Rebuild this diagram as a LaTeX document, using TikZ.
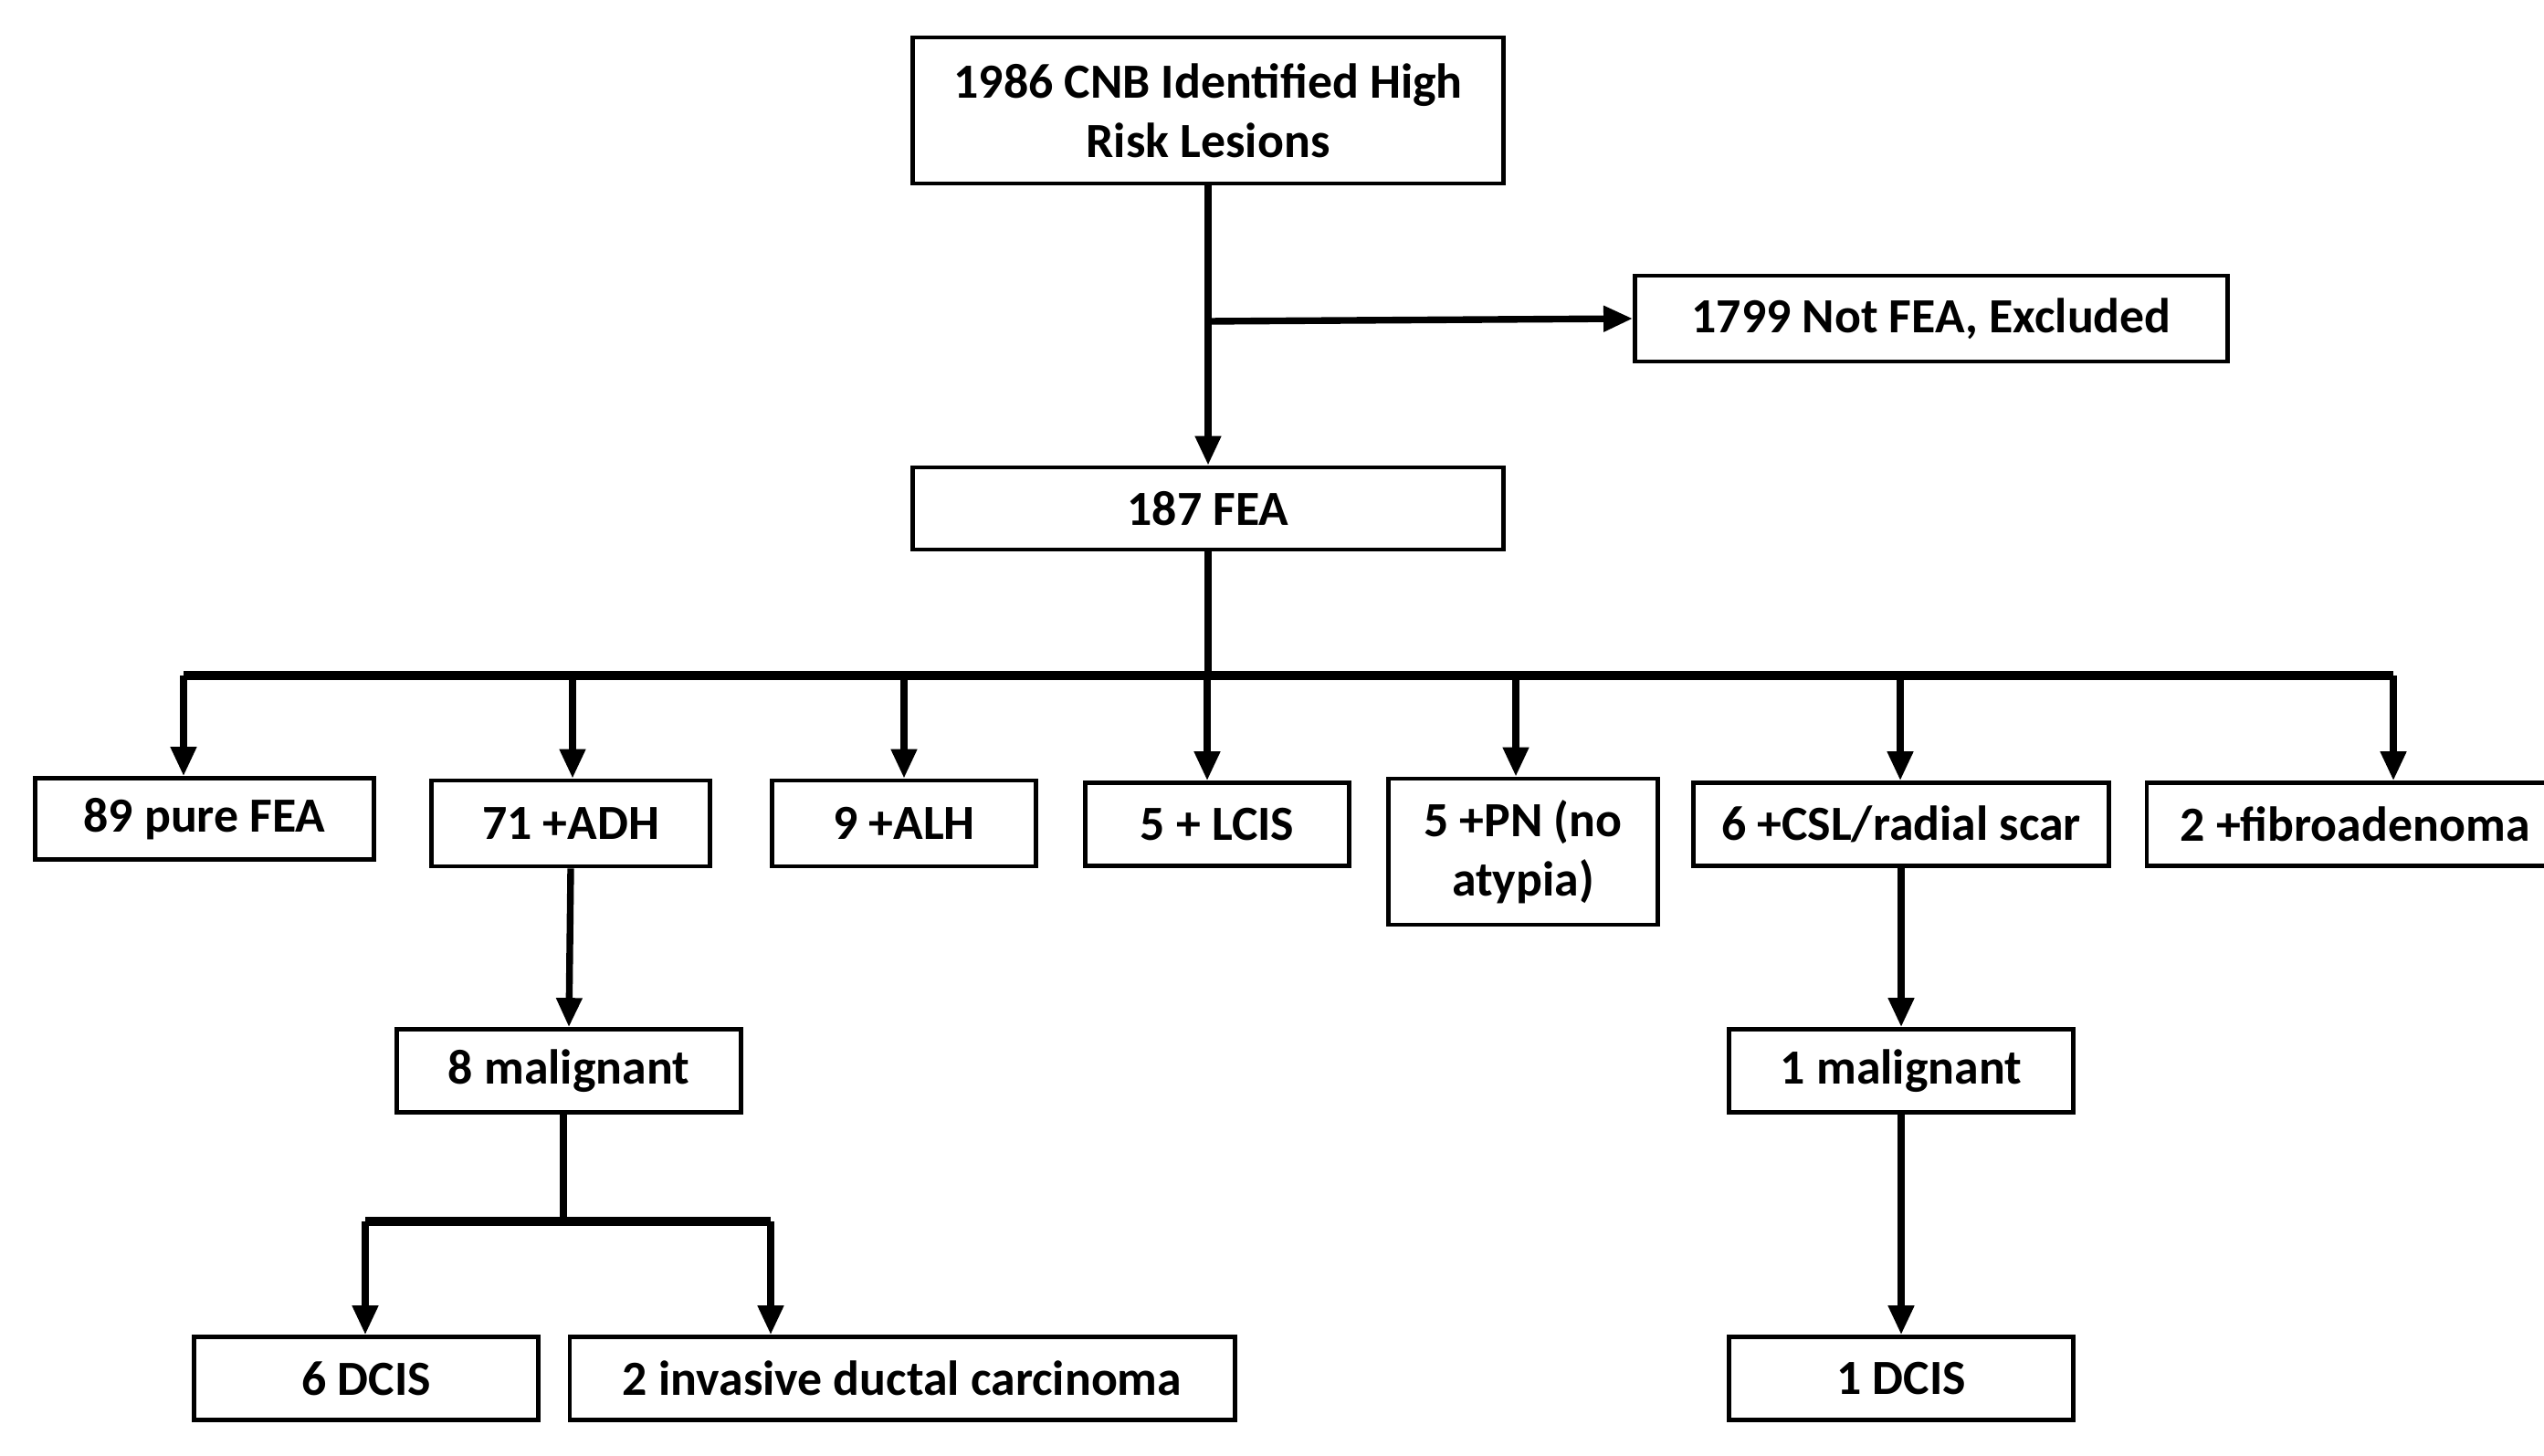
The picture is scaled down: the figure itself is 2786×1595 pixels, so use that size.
\documentclass[tikz,border=0pt]{standalone}
\usepackage{fontspec}
\setmainfont{Carlito}
\usetikzlibrary{arrows.meta}
\begin{document}
\begin{tikzpicture}[x=0.01cm,y=-0.01cm,
  box/.style={draw,line width=1.3pt,rectangle,inner sep=0pt,align=center,
    font=\fontsize{15.3pt}{18.6pt}\selectfont\bfseries},
  conn/.style={line width=2.1pt},
  arr/.style={line width=2.1pt,-{Triangle[length=0.32cm,width=0.27cm]}},
  busline/.style={line width=2.8pt}]
\useasboundingbox (0,0) rectangle (2786,1595);
% nodes
\node[box,minimum width=6.47cm,minimum height=1.60cm] (top) at (1323,121) {1986 CNB Identified High\\Risk Lesions};
\node[box,minimum width=6.49cm,minimum height=0.94cm] (excl) at (2115,349) {1799 Not FEA, Excluded};
\node[box,minimum width=6.47cm,minimum height=0.90cm] (fea) at (1323,557) {187 FEA};
\node[box,minimum width=3.71cm,minimum height=0.89cm] (pure) at (224,897) {89 pure FEA};
\node[box,minimum width=3.05cm,minimum height=0.94cm] (adh) at (625,902) {71 +ADH};
\node[box,minimum width=2.89cm,minimum height=0.94cm] (alh) at (990,902) {9 +ALH};
\node[box,minimum width=2.89cm,minimum height=0.91cm] (lcis) at (1333,903) {5 + LCIS};
\node[box,minimum width=2.95cm,minimum height=1.60cm] (pn) at (1668,933) {5 +PN (no\\atypia)};
\node[box,minimum width=4.55cm,minimum height=0.91cm] (csl) at (2082,903) {6 +CSL/radial scar};
\node[box,minimum width=4.56cm,minimum height=0.91cm] (fibro) at (2579,903) {2 +fibroadenoma};
\node[box,minimum width=3.77cm,minimum height=0.91cm] (mal8) at (623,1173) {8 malignant};
\node[box,minimum width=3.77cm,minimum height=0.91cm] (dcis6) at (401,1510) {6 DCIS};
\node[box,minimum width=7.28cm,minimum height=0.91cm] (idc) at (988,1510) {2 invasive ductal carcinoma};
\node[box,minimum width=3.77cm,minimum height=0.91cm] (mal1) at (2082,1173) {1 malignant};
\node[box,minimum width=3.77cm,minimum height=0.91cm] (dcis1) at (2082,1510) {1 DCIS};
% coordinates
\coordinate (j1) at (1323,352);
\coordinate (bus) at (1323,740);
\coordinate (bL) at (201,740);
\coordinate (bR) at (2621,740);
\coordinate (b1) at (201,740);
\coordinate (b2) at (627,740);
\coordinate (b3) at (990,740);
\coordinate (b4) at (1322,740);
\coordinate (b5) at (1660,740);
\coordinate (b6) at (2081,740);
\coordinate (b7) at (2621,740);
\coordinate (m8) at (617,1338);
\coordinate (mL) at (400,1338);
\coordinate (mR) at (844,1338);
% connectors
\draw[arr] (top.south) -- (fea.north);
\draw[arr] (j1) -- (excl.west);
\draw[conn] (fea.south) -- (bus);
\draw[busline] (bL) -- (bR);
\draw[arr] (b1) -- (b1 |- pure.north);
\draw[arr] (b2) -- (b2 |- adh.north);
\draw[arr] (b3) -- (b3 |- alh.north);
\draw[arr] (b4) -- (b4 |- lcis.north);
\draw[arr] (b5) -- (b5 |- pn.north);
\draw[arr] (b6) -- (b6 |- csl.north);
\draw[arr] (b7) -- (b7 |- fibro.north);
\draw[arr] (adh.south) -- (mal8.north);
\draw[conn] (mal8.south -| m8) -- (m8);
\draw[busline] (mL) -- (mR);
\draw[arr] (mL) -- (mL |- dcis6.north);
\draw[arr] (mR) -- (mR |- idc.north);
\draw[arr] (csl.south) -- (mal1.north);
\draw[arr] (mal1.south) -- (dcis1.north);
\end{tikzpicture}
\end{document}
